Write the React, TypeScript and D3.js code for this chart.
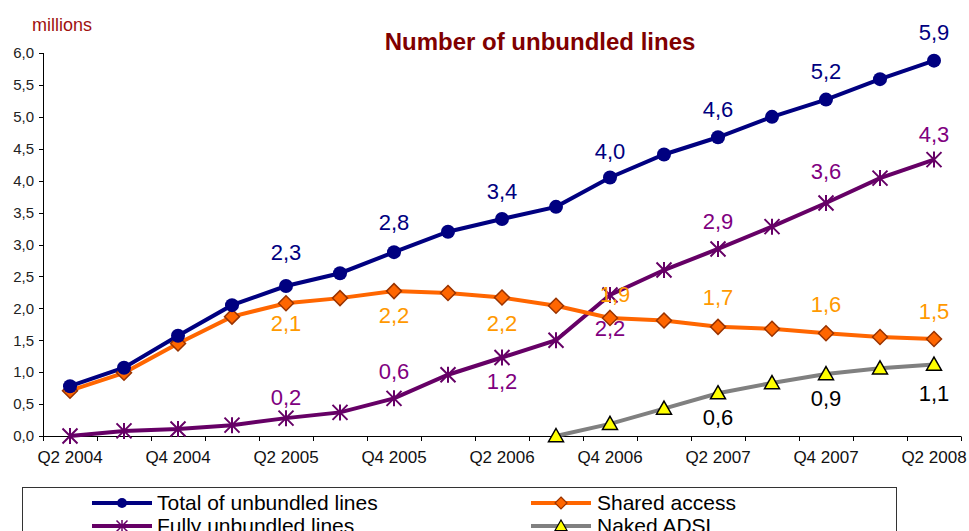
import React from "react";
import * as d3 from "d3";

const categories = [
  "Q2 2004", "Q3 2004", "Q4 2004", "Q1 2005", "Q2 2005", "Q3 2005", "Q4 2005", "Q1 2006",
  "Q2 2006", "Q3 2006", "Q4 2006", "Q1 2007", "Q2 2007", "Q3 2007", "Q4 2007", "Q1 2008", "Q2 2008",
];
const totalLines = [0.78, 1.07, 1.57, 2.05, 2.35, 2.55, 2.88, 3.2, 3.4, 3.59, 4.05, 4.41, 4.68, 5.0, 5.27, 5.59, 5.88];
const sharedAccess = [0.71, 0.99, 1.45, 1.87, 2.08, 2.16, 2.27, 2.24, 2.17, 2.04, 1.85, 1.81, 1.71, 1.68, 1.61, 1.55, 1.52];
const fullyUnbundled = [0.0, 0.08, 0.11, 0.17, 0.28, 0.37, 0.59, 0.96, 1.23, 1.5, 2.21, 2.6, 2.93, 3.28, 3.65, 4.04, 4.33];
const nakedADSL: (number | null)[] = [null, null, null, null, null, null, null, null, null, 0.0, 0.19, 0.43, 0.67, 0.83, 0.97, 1.06, 1.12];
const yTicks = [0, 0.5, 1, 1.5, 2, 2.5, 3, 3.5, 4, 4.5, 5, 5.5, 6];
const xTickLabels = ["Q2 2004", "Q4 2004", "Q2 2005", "Q4 2005", "Q2 2006", "Q4 2006", "Q2 2007", "Q4 2007", "Q2 2008"];

// label texts shown at given indices
const totalLabels: [number, string][] = [[4, "2,3"], [6, "2,8"], [8, "3,4"], [10, "4,0"], [12, "4,6"], [14, "5,2"], [16, "5,9"]];
const sharedLabels: [number, string][] = [[4, "2,1"], [6, "2,2"], [8, "2,2"], [10, "1,9"], [12, "1,7"], [14, "1,6"], [16, "1,5"]];
const fullyLabels: [number, string][] = [[4, "0,2"], [6, "0,6"], [8, "1,2"], [10, "2,2"], [12, "2,9"], [14, "3,6"], [16, "4,3"]];
const nakedLabels: [number, string][] = [[12, "0,6"], [14, "0,9"], [16, "1,1"]];

// placement offsets (style)
const totalDy: Record<number, number> = { 4: -34, 6: -30, 8: -28, 10: -26, 12: -28, 14: -29, 16: -29 };
const sharedDy: Record<number, number> = { 4: 20, 6: 24, 8: 26, 10: -24, 12: -30, 14: -29, 16: -28 };
const sharedDx: Record<number, number> = { 10: 5 };
const fullyDy: Record<number, number> = { 4: -21, 6: -27, 8: 24, 10: 33, 12: -28, 14: -32, 16: -26 };
const nakedDy: Record<number, number> = { 12: 24, 14: 24, 16: 29 };

const FONT = "'Liberation Sans', Arial, sans-serif";
const W = 969;
const H = 531;

export default function App() {
  const x = d3.scaleBand<string>().domain(categories).range([43, 961]).padding(0);
  const y = d3.scaleLinear().domain([0, 6]).range([436, 53]);
  const cx = (i: number) => (x(categories[i]) as number) + x.bandwidth() / 2;

  const line = d3
    .line<number | null>()
    .defined((d) => d !== null)
    .x((_, i) => cx(i))
    .y((d) => y(d as number));

  const star = (px: number, py: number, a = 7.5, r = 8) =>
    `M${px - a},${py - a}L${px + a},${py + a}M${px - a},${py + a}L${px + a},${py - a}M${px},${py - r}L${px},${py + r}`;
  const diamond = (px: number, py: number, r = 7.5) => `M${px},${py - r}L${px + r},${py}L${px},${py + r}L${px - r},${py}Z`;
  const triangle = (px: number, py: number, s = 7.5) => `M${px},${py - s}L${px + s},${py + s * 0.75}L${px - s},${py + s * 0.75}Z`;

  const C_TOTAL = "#000080";
  const C_SHARED = "#FF6600";
  const C_SHARED_LBL = "#FF9900";
  const C_FULLY = "#660066";
  const C_FULLY_LBL = "#800080";
  const C_NAKED = "#808080";

  const boundaries = d3.range(categories.length + 1).map((i) => 43 + i * x.bandwidth());

  const renderLabels = (
    labels: [number, string][],
    vals: (number | null)[],
    dy: Record<number, number>,
    color: string,
    dx: Record<number, number> = {}
  ) =>
    labels.map(([i, t]) => (
      <text
        key={`${color}-${i}`}
        x={cx(i) + (dx[i] || 0)}
        y={y(vals[i] as number) + dy[i]}
        dy="0.36em"
        textAnchor="middle"
        fontSize={22}
        fill={color}
        fontFamily={FONT}
      >
        {t}
      </text>
    ));

  return (
    <svg width={W} height={H} style={{ position: "absolute", left: 0, top: 0, background: "#fff" }}>
      <rect x={0} y={0} width={W} height={H} fill="#fff" />
      {/* title */}
      <text x={540} y={50} textAnchor="middle" fontSize={24} fontWeight="bold" fill="#800000" fontFamily={FONT}>
        Number of unbundled lines
      </text>
      <text x={32} y={31} fontSize={18} fill="#A01010" fontFamily={FONT}>
        millions
      </text>

      {/* y axis */}
      <line x1={43.5} x2={43.5} y1={y(6)} y2={y(0)} stroke="#000" strokeWidth={1} />
      {yTicks.map((t) => (
        <g key={t}>
          <line x1={39} x2={43.5} y1={Math.round(y(t)) + 0.5} y2={Math.round(y(t)) + 0.5} stroke="#000" />
          <text x={34} y={y(t)} dy="0.35em" textAnchor="end" fontSize={15} fill="#222" fontFamily={FONT}>
            {t.toFixed(1).replace(".", ",")}
          </text>
        </g>
      ))}

      {/* x axis */}
      <line x1={43} x2={961} y1={436.5} y2={436.5} stroke="#000" />
      {boundaries.map((b, i) => (
        <line key={i} x1={Math.round(b) + 0.5} x2={Math.round(b) + 0.5} y1={436.5} y2={441} stroke="#000" />
      ))}
      {xTickLabels.map((lbl) => (
        <text key={lbl} x={cx(categories.indexOf(lbl))} y={463} textAnchor="middle" fontSize={17} fill="#111" fontFamily={FONT}>
          {lbl}
        </text>
      ))}

      {/* lines */}
      <path d={line(nakedADSL) || ""} fill="none" stroke={C_NAKED} strokeWidth={4} />
      <path d={line(fullyUnbundled) || ""} fill="none" stroke={C_FULLY} strokeWidth={4} />
      <path d={line(sharedAccess) || ""} fill="none" stroke={C_SHARED} strokeWidth={4} />
      <path d={line(totalLines) || ""} fill="none" stroke={C_TOTAL} strokeWidth={4} />

      {/* markers */}
      {nakedADSL.map((v, i) =>
        v === null ? null : (
          <path key={`n${i}`} d={triangle(cx(i), y(v))} fill="#FFFF00" stroke="#000" strokeWidth={1.5} />
        )
      )}
      {fullyUnbundled.map((v, i) => (
        <path key={`f${i}`} d={star(cx(i), y(v))} fill="none" stroke={C_FULLY} strokeWidth={2} />
      ))}
      {sharedAccess.map((v, i) => (
        <path key={`s${i}`} d={diamond(cx(i), y(v))} fill={C_SHARED} stroke="#993300" strokeWidth={1.5} />
      ))}
      {totalLines.map((v, i) => (
        <circle key={`t${i}`} cx={cx(i)} cy={y(v)} r={7} fill={C_TOTAL} />
      ))}

      {/* data labels */}
      {renderLabels(totalLabels, totalLines, totalDy, C_TOTAL)}
      {renderLabels(fullyLabels, fullyUnbundled, fullyDy, C_FULLY_LBL)}
      {renderLabels(sharedLabels, sharedAccess, sharedDy, C_SHARED_LBL, sharedDx)}
      {renderLabels(nakedLabels, nakedADSL, nakedDy, "#000")}

      {/* legend */}
      <rect x={22.5} y={487.5} width={874} height={60} fill="#fff" stroke="#333" strokeWidth={1} />
      <g>
        <line x1={92} x2={152} y1={503} y2={503} stroke={C_TOTAL} strokeWidth={4} />
        <circle cx={122} cy={503} r={5} fill={C_TOTAL} />
        <text x={157} y={510} fontSize={21} fill="#000" fontFamily={FONT}>Total of unbundled lines</text>

        <line x1={92} x2={152} y1={526} y2={526} stroke={C_FULLY} strokeWidth={4} />
        <path d={star(122, 526, 5.5, 6)} fill="none" stroke={C_FULLY} strokeWidth={1.5} />
        <text x={157} y={533} fontSize={21} fill="#000" fontFamily={FONT}>Fully unbundled lines</text>

        <line x1={531} x2={591} y1={503} y2={503} stroke={C_SHARED} strokeWidth={4} />
        <path d={diamond(561, 503, 6)} fill={C_SHARED} stroke="#993300" strokeWidth={1.2} />
        <text x={597} y={510} fontSize={21} fill="#000" fontFamily={FONT}>Shared access</text>

        <line x1={531} x2={591} y1={526} y2={526} stroke={C_NAKED} strokeWidth={4} />
        <path d={triangle(561, 526, 6)} fill="#FFFF00" stroke="#000" strokeWidth={1.2} />
        <text x={597} y={533} fontSize={21} fill="#000" fontFamily={FONT}>Naked ADSL</text>
      </g>
    </svg>
  );
}
